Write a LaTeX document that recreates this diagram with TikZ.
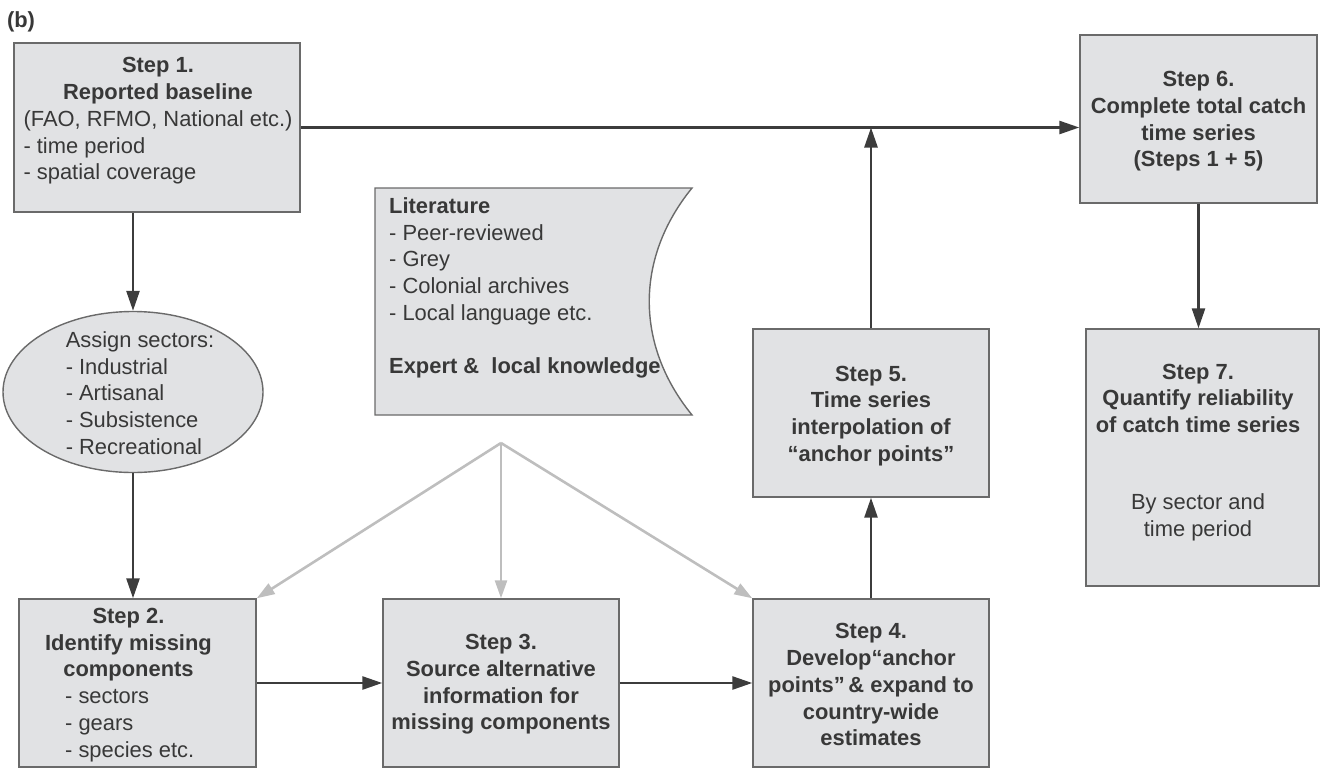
\documentclass[tikz,border=0pt]{standalone}
\usepackage{fontspec}
\setmainfont{Liberation Sans}
\usepackage{array}
\usetikzlibrary{arrows.meta,shapes.geometric}
\definecolor{boxfill}{HTML}{E1E2E4}
\definecolor{boxline}{HTML}{6A6A6A}
\definecolor{ink}{HTML}{383838}
\definecolor{darkline}{HTML}{3C3C3C}
\definecolor{lightline}{HTML}{BEBEBE}
\newcommand{\stackc}[1]{\begin{tabular}{@{}c@{}}#1\end{tabular}}
\newcommand{\stackb}[1]{\begin{tabular}{@{}>{\bfseries}c@{}}#1\end{tabular}}
\newcommand{\stackl}[1]{\begin{tabular}{@{}l@{}}#1\end{tabular}}
\newcommand{\ctr}[1]{\multicolumn{1}{@{}c@{}}{\bfseries #1}}
\begin{document}
\begin{tikzpicture}[x=1pt,y=-1pt,
  every node/.style={font=\fontsize{21.9}{26.7}\selectfont, text=ink},
  stepbox/.style={draw=boxline, line width=1.4pt, fill=boxfill, inner sep=0pt},
  txt/.style={inner sep=0pt},
  flow/.style={draw=darkline, line width=2.6pt, -{Triangle[length=20pt,width=13pt]}},
  feed/.style={draw=lightline, line width=2.6pt, -{Triangle[length=18pt,width=12pt]}}
]
\useasboundingbox (0,0) rectangle (1321,768);

\node[txt, font=\fontsize{21.9}{26.7}\selectfont\bfseries] (lab) at (21,22) {(b)};

% boxes
\node[stepbox, minimum width=286, minimum height=169] (s1) at (157,127.5) {};
\node[stepbox, minimum width=237, minimum height=168] (s2) at (137.5,683) {};
\node[stepbox, minimum width=236, minimum height=168] (s3) at (501,683) {};
\node[stepbox, minimum width=236, minimum height=168] (s4) at (871,683) {};
\node[stepbox, minimum width=236, minimum height=168] (s5) at (871,413) {};
\node[stepbox, minimum width=237, minimum height=168] (s6) at (1198.5,119) {};
\node[stepbox, minimum width=233, minimum height=257] (s7) at (1202.5,457.5) {};
\node[stepbox, ellipse, minimum width=260, minimum height=161] (sect) at (133,392) {};

% literature shape
\filldraw[draw=boxline, line width=1.4pt, fill=boxfill]
  (375,188) -- (692,188) .. controls (635,258) and (635,345) .. (692,415)
  -- (375,415) -- cycle;
\coordinate (litpt) at (501,443);

% texts
\node[txt] (s1t) at (158,121) {\stackl{\ctr{Step 1.}\\ \ctr{Reported baseline}\\ (FAO, RFMO, National etc.)\\ - time period\\ - spatial coverage}};
\node[txt] (s2t) at (128.5,685) {\stackl{\ctr{Step 2.}\\ \ctr{Identify missing}\\ \ctr{components}\\ \hspace{20pt}- sectors\\ \hspace{20pt}- gears\\ \hspace{20pt}- species etc.}};
\node[txt] (s3t) at (501,684.5) {\stackb{Step 3.\\ Source alternative\\ information for\\ missing components}};
\node[txt] (s4t) at (871,687) {\stackb{Step 4.\\ Develop“anchor\\ points”\,\& expand to\\ country-wide\\ estimates}};
\node[txt] (s5t) at (871,416) {\stackb{Step 5.\\ Time series\\ interpolation of\\ “anchor points”}};
\node[txt] (s6t) at (1198.5,121.5) {\stackb{Step 6.\\ Complete total catch\\ time series\\ (Steps 1 + 5)}};
\node[txt] (s7t) at (1198,400.5) {\stackb{Step 7.\\ Quantify reliability\\ of catch time series}};
\node[txt] (s7n) at (1198,518) {\stackc{By sector and\\ time period}};
\node[txt] (sectt) at (140,395.5) {\stackl{Assign sectors:\\ - Industrial\\ - Artisanal\\ - Subsistence\\ - Recreational}};
\node[txt, anchor=north west] (litt) at (389,194.5) {\stackl{\textbf{Literature}\\ - Peer-reviewed\\ - Grey\\ - Colonial archives\\ - Local language etc.\\[26.7pt] \textbf{Expert \&\ \ local knowledge}}};

% connectors
\draw[flow] (s1.east) -- (s1.east -| s6.west);
\draw[flow] (s5.north) -- (s5.north |- s1.east);
\draw[flow] (s4.north) -- (s5.south);
\draw[flow] (s1.south -| sect.north) -- (sect.north);
\draw[flow] (sect.south) -- (sect.south |- s2.north);
\draw[flow] (s2.east) -- (s3.west);
\draw[flow] (s3.east) -- (s4.west);
\draw[flow] (s6.south) -- (s6.south |- s7.north);
\draw[feed] (litpt) -- (s2.north east);
\draw[feed] (litpt) -- (s3.north);
\draw[feed] (litpt) -- (s4.north west);
\end{tikzpicture}
\end{document}
